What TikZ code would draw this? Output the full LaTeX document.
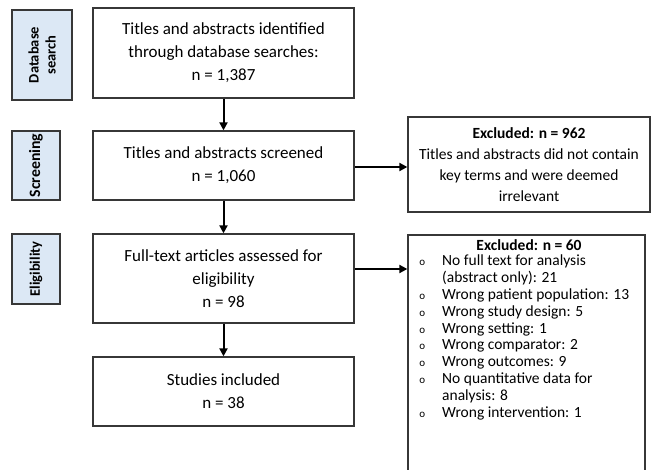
\documentclass[tikz,border=0pt]{standalone}
\usepackage{fontspec}
\setmainfont{Carlito}
\usetikzlibrary{arrows.meta}
\definecolor{lblue}{RGB}{220,232,245}
\definecolor{edgegray}{RGB}{55,55,55}
\begin{document}
\begin{tikzpicture}[x=1pt,y=-1pt,
  mainbox/.style={draw=edgegray, line width=1.3pt, fill=white, align=center,
    font=\fontsize{17}{23}\selectfont, inner sep=0pt},
  sidebox/.style={draw=edgegray, line width=1.3pt, fill=white, inner sep=0pt},
  stagebox/.style={draw=edgegray, line width=1.2pt, fill=lblue, rotate=90, align=center,
    font=\fontsize{14.5}{17}\selectfont\bfseries, inner sep=0pt},
  flowarrow/.style={line width=2pt, -{Triangle[length=8pt,width=8pt]}},
  sidetext/.style={align=center, font=\fontsize{15.5}{21}\selectfont, inner sep=0pt},
  bul/.style={}
]
\useasboundingbox (0,0) rectangle (651,470);
\clip (0,0) rectangle (651,470);

% stage labels
\node[stagebox, minimum width=90pt, minimum height=60pt] (lab1) at (42,55) {Database\\search};
\node[stagebox, minimum width=69pt, minimum height=48pt, font=\fontsize{15.8}{18}\selectfont\bfseries] (lab2) at (36,165.5) {Screening};
\node[stagebox, minimum width=70pt, minimum height=48pt] (lab3) at (36,269) {Eligibility};

% main boxes
\node[mainbox, minimum width=261pt, minimum height=90pt] (b1) at (223.5,53)
  {Titles and abstracts identified\\through database searches:\\n = 1,387};
\node[mainbox, minimum width=261pt, minimum height=69pt] (b2) at (223.5,165.5)
  {Titles and abstracts screened\\n = 1,060};
\node[mainbox, minimum width=261pt, minimum height=89pt] (b3) at (223.5,278.5)
  {Full-text articles assessed for\\eligibility\\n = 98};
\node[mainbox, minimum width=261pt, minimum height=69pt] (b4) at (223.5,391.5)
  {Studies included\\n = 38};

% side boxes
\node[sidebox, minimum width=242pt, minimum height=95pt] (r1) at (529,164.5) {};
\node[sidetext] (r1t) at (r1.center)
  {\textbf{Excluded: n = 962}\\Titles and abstracts did not contain\\key terms and were deemed\\irrelevant};
\node[sidebox, minimum width=237pt, minimum height=250pt] (r2) at (526.5,360) {};
\node[sidetext, font=\fontsize{15.5}{17}\selectfont\bfseries] (r2h) at (529,245.5) {Excluded: n = 60};
\node[anchor=north west, inner sep=0pt, font=\fontsize{15.5}{16.8}\selectfont] (r2l) at (416,254)
  {\renewcommand\arraystretch{1}%
   \begin{tabular}{@{}c@{\hspace{14pt}}l@{}}
   \makebox[12pt]{\fontsize{11}{11}\selectfont o} & No full text for analysis\\
    & (abstract only): 21\\
   \makebox[12pt]{\fontsize{11}{11}\selectfont o} & Wrong patient population: 13\\
   \makebox[12pt]{\fontsize{11}{11}\selectfont o} & Wrong study design: 5\\
   \makebox[12pt]{\fontsize{11}{11}\selectfont o} & Wrong setting: 1\\
   \makebox[12pt]{\fontsize{11}{11}\selectfont o} & Wrong comparator: 2\\
   \makebox[12pt]{\fontsize{11}{11}\selectfont o} & Wrong outcomes: 9\\
   \makebox[12pt]{\fontsize{11}{11}\selectfont o} & No quantitative data for\\
    & analysis: 8\\
   \makebox[12pt]{\fontsize{11}{11}\selectfont o} & Wrong intervention: 1
   \end{tabular}};

% arrows
\draw[flowarrow] (b1.south) -- (b2.north);
\draw[flowarrow] (b2.south) -- (b3.north);
\draw[flowarrow] (b3.south) -- (b4.north);
\draw[flowarrow] (b2.east |- 0,167) -- (r1.west |- 0,167);
\draw[flowarrow] (b3.east |- 0,269) -- (r2.west |- 0,269);
\end{tikzpicture}
\end{document}
